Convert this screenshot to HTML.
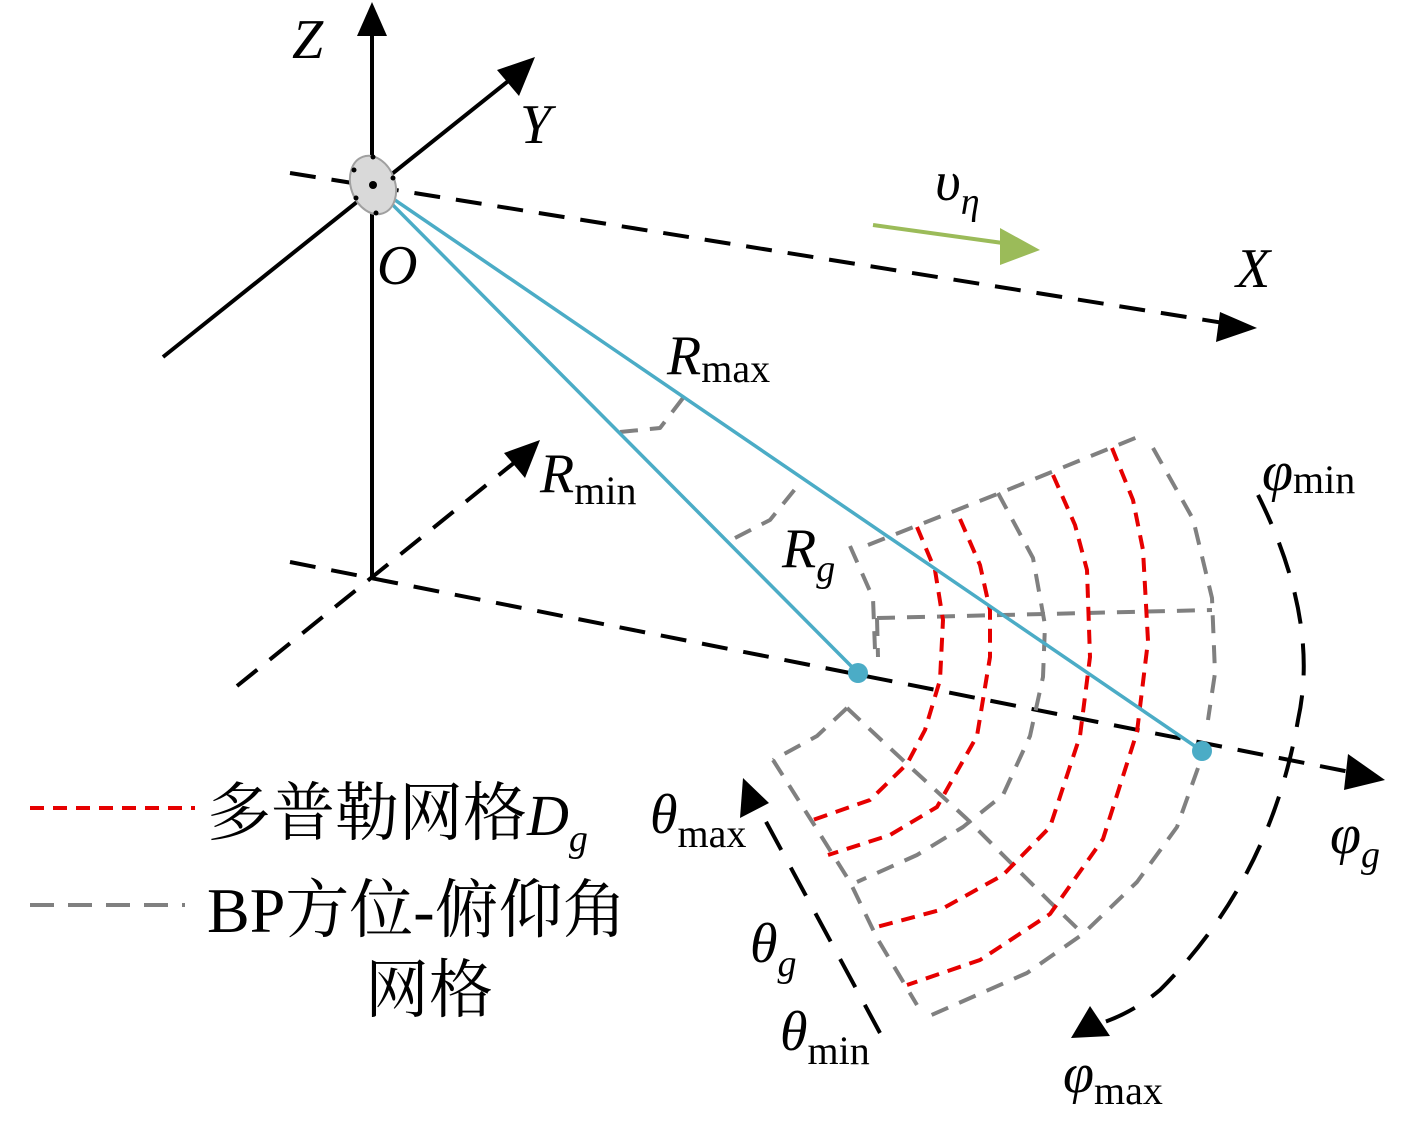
<!DOCTYPE html>
<html><head><meta charset="utf-8"><style>
html,body{margin:0;padding:0;background:#fff;}
svg{display:block;}
.it{font-family:"Liberation Serif","DejaVu Serif",serif;font-style:italic;}
.rm{font-family:"Liberation Serif","DejaVu Serif",serif;}
.cj{font-family:"Liberation Serif","Noto Serif CJK SC","Noto Sans CJK SC",serif;}
</style></head><body>
<svg width="1417" height="1124" viewBox="0 0 1417 1124" xmlns="http://www.w3.org/2000/svg">
<g fill="none" stroke-linecap="butt" stroke-linejoin="round">
<line x1="372" y1="578" x2="372" y2="30" stroke="#000" stroke-width="4"/>
<line x1="163" y1="357" x2="512" y2="78" stroke="#000" stroke-width="4"/>
<line x1="290" y1="173" x2="1230" y2="324" stroke="#000" stroke-width="4" stroke-dasharray="26,16"/>
<line x1="290" y1="562" x2="1355" y2="773" stroke="#000" stroke-width="4" stroke-dasharray="26,16"/>
<line x1="237" y1="686" x2="520" y2="458" stroke="#000" stroke-width="4" stroke-dasharray="26,16"/>
<line x1="880" y1="1033" x2="757" y2="805" stroke="#000" stroke-width="4" stroke-dasharray="32,20"/>
<path d="M1258,495 Q1320,620 1298,720 Q1270,880 1160,990 Q1130,1015 1095,1025" stroke="#000" stroke-width="4" stroke-dasharray="32,20"/>

<g stroke="#808080" stroke-width="4" stroke-dasharray="18,12">
<polyline points="868,545 1000,493 1145,434"/>
<polyline points="877,618 1212,610"/>
<polyline points="850,546 873,598 875,650"/>
<polyline points="877,618 878,657"/>
<polyline points="847,708 817,736 773,760"/>
<polyline points="773,760 813,823 850,882 877,938 917,1005"/>
<polyline points="847,708 907,764 967,819 1050,902 1083,934"/>
<polyline points="998,493 1033,558 1045,625 1043,677 1030,736 1003,795 963,827 917,855 857,882"/>
<polyline points="1153,448 1193,519 1212,598 1215,673 1208,720"/>
<polyline points="1198,768 1177,827 1137,882 1083,934 1027,973 927,1017"/>
<polyline points="735,538 770,520 800,483"/>
<polyline points="620,432 660,428 683,398"/>
</g>
<g stroke="#e60000" stroke-width="4" stroke-dasharray="14,9">
<polyline points="917,527 935,570 943,620 940,680 925,730 907,764 870,800 810,821"/>
<polyline points="960,519 980,565 990,610 990,657 977,736 937,807 890,835 828,855"/>
<polyline points="1053,475 1075,525 1087,570 1090,657 1080,736 1050,827 1003,875 940,910 873,928"/>
<polyline points="1112,448 1133,500 1143,550 1148,641 1137,732 1103,839 1050,914 980,960 907,985"/>
</g>
<line x1="373" y1="185" x2="858" y2="673" stroke="#4bacc6" stroke-width="3.5"/>
<line x1="373" y1="185" x2="1202" y2="751" stroke="#4bacc6" stroke-width="3.5"/>
<line x1="873" y1="225" x2="1010" y2="244" stroke="#9bbb59" stroke-width="4"/>
<line x1="30" y1="808" x2="195" y2="808" stroke="#e60000" stroke-width="4" stroke-dasharray="14,9"/>
<line x1="30" y1="905" x2="185" y2="905" stroke="#808080" stroke-width="4" stroke-dasharray="24,14"/>
</g>
<polygon points="372,2 357,36 387,36" fill="#000"/>
<polygon points="535,57 497,70 519,96" fill="#000"/>
<polygon points="1257,328 1220,312 1216,342" fill="#000"/>
<polygon points="1385,780 1348,754 1344,790" fill="#000"/>
<polygon points="540,440 504,453 525,478" fill="#000"/>
<polygon points="743,778 740,818 769,803" fill="#000"/>
<polygon points="1071,1038 1110,1036 1090,1006" fill="#000"/>
<polygon points="1040,250 1000,228 1000,265" fill="#9bbb59"/>
<ellipse cx="373" cy="185" rx="22" ry="30" transform="rotate(-20 373 185)" fill="#d9d9d9" stroke="#a0a0a0" stroke-width="2"/>
<circle cx="373" cy="185" r="4" fill="#000"/>
<circle cx="373" cy="157" r="2.5" fill="#000"/><circle cx="393" cy="178" r="2.5" fill="#000"/>
<circle cx="354" cy="170" r="2.5" fill="#000"/><circle cx="356" cy="198" r="2.5" fill="#000"/><circle cx="376" cy="213" r="2.5" fill="#000"/>
<circle cx="858" cy="673" r="10" fill="#4bacc6"/>
<circle cx="1202" cy="751" r="10" fill="#4bacc6"/>
<g class="it" font-size="56" fill="#000">
<text x="292" y="58">Z</text>
<text x="520" y="143">Y</text>
<text x="377" y="284">O</text>
<text x="1236" y="287">X</text>
<text x="935" y="200">υ<tspan font-size="38" dy="14">η</tspan></text>
<text x="667" y="374">R<tspan class="rm" font-style="normal" font-size="40" dy="8">max</tspan></text>
<text x="540" y="492">R<tspan class="rm" font-style="normal" font-size="40" dy="12">min</tspan></text>
<text x="782" y="567">R<tspan font-size="38" dy="14">g</tspan></text>
<text x="1262" y="490">φ<tspan class="rm" font-style="normal" font-size="40" dy="3">min</tspan></text>
<text x="1330" y="853">φ<tspan font-size="38" dy="14">g</tspan></text>
<text x="650" y="833">θ<tspan class="rm" font-style="normal" font-size="40" dy="14">max</tspan></text>
<text x="750" y="962">θ<tspan font-size="38" dy="14">g</tspan></text>
<text x="780" y="1050">θ<tspan class="rm" font-style="normal" font-size="40" dy="14">min</tspan></text>
<text x="1063" y="1092">φ<tspan class="rm" font-style="normal" font-size="40" dy="12">max</tspan></text>
</g>
<g class="cj" font-size="64" fill="#000">
<text x="207" y="835">多普勒网格<tspan class="it" font-size="58">D</tspan><tspan class="it" font-size="38" dy="16">g</tspan></text>
<text x="207" y="932">BP方位-俯仰角</text>
<text x="365" y="1012">网格</text>
</g>
</svg>
</body></html>
